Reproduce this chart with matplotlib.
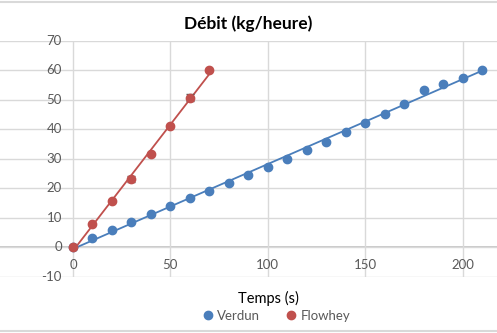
import numpy as np
import matplotlib.pyplot as plt
from matplotlib.lines import Line2D

plt.rcParams['font.family'] = ['Lato', 'DejaVu Sans']

# Data
verdun_t = [0, 10, 20, 30, 40, 50, 60, 70, 80, 90, 100, 110, 120, 130, 140,
            150, 160, 170, 180, 190, 200, 210]
verdun_q = [0, 3.0, 5.9, 8.6, 11.3, 14.1, 16.7, 19.1, 21.8, 24.6, 27.3, 29.9,
            33.0, 35.8, 38.9, 42.0, 45.3, 48.7, 53.3, 55.2, 57.2, 60.2]
flowhey_t = [0, 10, 20, 30, 40, 50, 60, 70]
flowhey_q = [0, 7.9, 15.5, 23.2, 31.7, 41.0, 50.7, 60.0]
flowhey_err = [0, 0, 0, 1.0, 0, 0, 1.2, 0]

x_ticks = [0, 50, 100, 150, 200]
y_ticks = [-10, 0, 10, 20, 30, 40, 50, 60, 70]

blue = '#4a7ebb'
red = '#c0504d'
grid_c = '#d9d9d9'
txt_c = '#595959'

fig = plt.figure(figsize=(4.97, 3.33), dpi=100)
ax = fig.add_axes([0, 1 - 276.7 / 333, 1, (276.7 - 40.7) / 333])
ax.set_xlim(-73 / 1.9485, (497 - 73) / 1.9485)
ax.set_ylim(-10, 70)

for s in ax.spines.values():
    s.set_visible(False)
ax.set_xticks(x_ticks)
ax.set_yticks(y_ticks)
ax.tick_params(length=0, labelbottom=False, labelleft=False)
ax.grid(True, color=grid_c, lw=1)
ax.axhline(0, color='#bfbfbf', lw=1.2, zorder=1)

# tick labels placed next to the axes crossing at 0
for xv in x_ticks:
    ax.annotate(str(xv), (xv, 0), xytext=(0, -13), textcoords='offset points',
                ha='center', va='center', color=txt_c, fontsize=9.5)
for yv in y_ticks:
    ax.annotate(str(yv), (0, yv), xytext=(-8, 0), textcoords='offset points',
                ha='right', va='center', color=txt_c, fontsize=9.5)

# linear trendlines
for t, q, c in [(verdun_t, verdun_q, blue), (flowhey_t, flowhey_q, red)]:
    a, b = np.polyfit(t, q, 1)
    xs = np.array([t[0], t[-1]])
    ax.plot(xs, a * xs + b, color=c, lw=1.3, zorder=2)

ax.plot(verdun_t, verdun_q, 'o', color=blue, ms=6, zorder=3, label='Verdun')
ax.errorbar(flowhey_t, flowhey_q, yerr=flowhey_err, fmt='o', color=red, ms=6,
            ecolor='#595959', elinewidth=0.9, capsize=3, zorder=3, label='Flowhey')

fig.text(248 / 497, 1 - 24 / 333, 'Débit (kg/heure)', ha='center', va='center',
         fontsize=12.5, fontweight='bold', color='#000000')
fig.text(268 / 497, 1 - 298 / 333, 'Temps (s)', ha='center', va='center',
         fontsize=10.5, color='#000000')

handles = [Line2D([], [], marker='o', ls='', color=blue, ms=6),
           Line2D([], [], marker='o', ls='', color=red, ms=6)]
fig.legend(handles, ['Verdun', 'Flowhey'], ncol=2, frameon=False,
           loc='center', bbox_to_anchor=(275 / 497, 1 - 316 / 333),
           fontsize=9.5, handletextpad=0.1, columnspacing=1.8, handlelength=1.2,
           labelcolor=txt_c)

fig.add_artist(Line2D([0, 1], [1 - 1.5 / 333] * 2, color=grid_c, lw=1.5))
fig.add_artist(Line2D([0, 1], [1 - 331 / 333] * 2, color=grid_c, lw=1.5))

fig.savefig('out.png', dpi=100)
